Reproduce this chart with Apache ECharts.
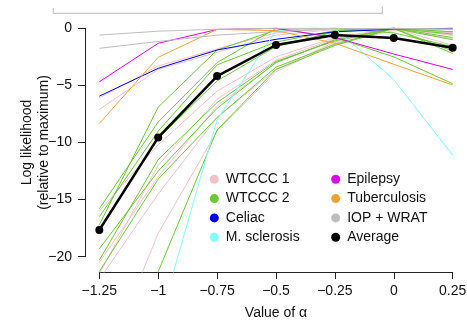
<!DOCTYPE html>
<html><head><meta charset="utf-8">
<script src="https://cdn.jsdelivr.net/npm/echarts@6/dist/echarts.min.js"></script>
<style>html,body{margin:0;padding:0;background:#fff}#c{width:467px;height:321px}</style>
</head><body><div id="c"></div>
<script>
// x values (alpha)
const alphas = [-1.25, -1, -0.75, -0.5, -0.25, 0, 0.25];
const xTicks = [-1.25, -1, -0.75, -0.5, -0.25, 0, 0.25];
const yTicks = [-20, -15, -10, -5, 0];

// WTCCC 1 (pink)
const wtccc1 = [
  [-6.1, -3.3, -1.8, -0.4, 0, -0.1, -0.3],
  [-7.1, -3.6, -2.1, -0.6, -0.1, 0, -0.6],
  [-16.0, -10.2, -5.5, -2.5, -0.8, 0, -0.4],
  [-20.5, -13.0, -6.8, -3.0, -1.0, -0.1, -0.9],
  [-22.0, -14.5, -7.8, -3.6, -1.2, 0, -1.5],
  [-30.6, -17.95, -9.0, -3.8, -1.3, -0.2, -0.3],
  [-21.5, -12.0, -6.2, -2.8, -0.9, 0, -0.6]
];
// WTCCC 2 (green)
const wtccc2 = [
  [-17.2, -6.9, -1.9, -0.15, 0, -0.4, -1.6],
  [-16.5, -9.0, -3.2, -1.2, -0.2, 0, -0.3],
  [-17.6, -9.65, -4.6, -1.6, -0.3, 0, -2.2],
  [-15.8, -8.2, -3.0, 0, -0.8, -2.5, -4.85],
  [-19.3, -12.5, -7.0, -3.0, -1.0, 0, -0.5],
  [-21.3, -13.2, -7.8, -3.4, -1.4, 0, -0.8],
  [-30.0, -21.3, -8.9, -3.6, -1.5, 0, -1.0],
  [-20.3, -11.5, -6.5, -2.9, -1.1, 0, -2.0]
];
const celiac = [-5.94, -3.5, -1.9, -0.96, -0.3, -0.08, 0];
const msclerosis = [-45, -26, -8.0, -0.2, 0, -4.5, -11.1];
const epilepsy = [-4.68, -1.31, -0.1, 0, -0.8, -2.25, -3.6];
const tuberculosis = [-8.33, -2.54, -0.09, -0.2, -1.3, -3.15, -4.96];
const iopWrat = [
  [-0.59, -0.25, -0.08, 0, 0, -0.05, -0.1],
  [-1.75, -1.15, -0.6, -0.28, -0.05, 0, -0.05]
];
const average = [-17.66, -9.55, -4.18, -1.46, -0.59, -0.85, -1.70];

const names = ['WTCCC 1', 'WTCCC 2', 'Celiac', 'M. sclerosis', 'Epilepsy', 'Tuberculosis', 'IOP + WRAT', 'Average'];
const colors = {
  'WTCCC 1': '#F2C2CA', 'WTCCC 2': '#6DC836', 'Celiac': '#0000F0', 'M. sclerosis': '#80FFFF',
  'Epilepsy': '#E000F0', 'Tuberculosis': '#EBA434', 'IOP + WRAT': '#BEBEBE', 'Average': '#000000'
};

function pts(vals) { return alphas.map((a, i) => [a, vals[i]]); }
function lineSeries(name, vals) {
  return {
    type: 'line', name: name, xAxisIndex: 0, yAxisIndex: 0, data: pts(vals),
    showSymbol: false, symbol: 'circle', silent: true, animation: false,
    lineStyle: { color: colors[name], width: 1 }, itemStyle: { color: colors[name] }, clip: true
  };
}
const series = [];
wtccc1.forEach(v => series.push(lineSeries('WTCCC 1', v)));
wtccc2.forEach(v => series.push(lineSeries('WTCCC 2', v)));
series.push(lineSeries('Celiac', celiac));
series.push(lineSeries('M. sclerosis', msclerosis));
series.push(lineSeries('Epilepsy', epilepsy));
series.push(lineSeries('Tuberculosis', tuberculosis));
iopWrat.forEach(v => series.push(lineSeries('IOP + WRAT', v)));
series.push({
  type: 'line', name: 'Average', xAxisIndex: 0, yAxisIndex: 0, data: pts(average),
  symbol: 'circle', symbolSize: 8, showSymbol: true, animation: false, clip: true,
  lineStyle: { color: '#000', width: 2.5 }, itemStyle: { color: '#000' }
});

const fmt = v => String(v).replace('-', '\u2212');
const font = 'Liberation Sans, Arial, Helvetica, sans-serif';
const axisCol = '#222';

const legendCommon = {
  orient: 'vertical', icon: 'circle', itemWidth: 9, itemHeight: 9, itemGap: 3.3,
  selectedMode: false, padding: 0,
  textStyle: { fontSize: 14, fontFamily: font, color: '#111', lineHeight: 16, padding: [0, 0, 0, 2] }
};

const chart = echarts.init(document.getElementById('c'), null, { renderer: 'canvas' });
chart.setOption({
  animation: false,
  backgroundColor: '#fff',
  grid: [
    { left: 85.2, right: 0.2, top: 19.2, bottom: 49, containLabel: false, outerBoundsMode: 'none' },
    { left: 99.3, right: 14.3, top: 28.3, bottom: 64.3, containLabel: false, outerBoundsMode: 'none' }
  ],
  xAxis: [
    { gridIndex: 0, type: 'value', min: -1.31, max: 0.31, show: false },
    { gridIndex: 1, type: 'value', min: xTicks[0], max: xTicks[xTicks.length - 1], interval: 0.25,
      position: 'bottom', offset: 15.3, splitLine: { show: false },
      axisLine: { show: true, onZero: false, lineStyle: { color: axisCol, width: 1 } },
      axisTick: { show: true, length: 7, lineStyle: { color: axisCol, width: 1 } },
      axisLabel: { fontSize: 14, fontFamily: font, color: '#111', margin: 12, formatter: fmt, showMinLabel: true, showMaxLabel: true },
      name: 'Value of \u03B1', nameLocation: 'middle', nameGap: 34,
      nameTextStyle: { fontSize: 14, fontFamily: font, color: '#111' } }
  ],
  yAxis: [
    { gridIndex: 0, type: 'value', min: -21.34, max: 0.8, show: false },
    { gridIndex: 1, type: 'value', min: yTicks[0], max: yTicks[yTicks.length - 1], interval: 5,
      position: 'left', offset: 14.3, splitLine: { show: false },
      axisLine: { show: true, onZero: false, lineStyle: { color: axisCol, width: 1 } },
      axisTick: { show: true, length: 7, lineStyle: { color: axisCol, width: 1 } },
      axisLabel: { fontSize: 14, fontFamily: font, color: '#111', margin: 13, formatter: fmt } }
  ],
  legend: [
    Object.assign({}, legendCommon, { left: 209.8, top: 171.3, data: names.slice(0, 4) }),
    Object.assign({}, legendCommon, { left: 331.2, top: 171.3, data: names.slice(4) })
  ],
  graphic: [
    { type: 'polyline', silent: true, shape: { points: [[53.3, 8], [53.3, 13.3], [382.3, 13.3], [382.3, 6.7]] },
      style: { stroke: '#BBBBBB', lineWidth: 1, fill: null } },
    { type: 'text', silent: true, x: 35.5, y: 142.5, rotation: Math.PI / 2,
      style: { text: 'Log likelihood\n(relative to maximum)', font: '14px ' + font, fill: '#111',
        align: 'center', verticalAlign: 'middle', lineHeight: 17 } }
  ],
  series: series
});
</script></body></html>
